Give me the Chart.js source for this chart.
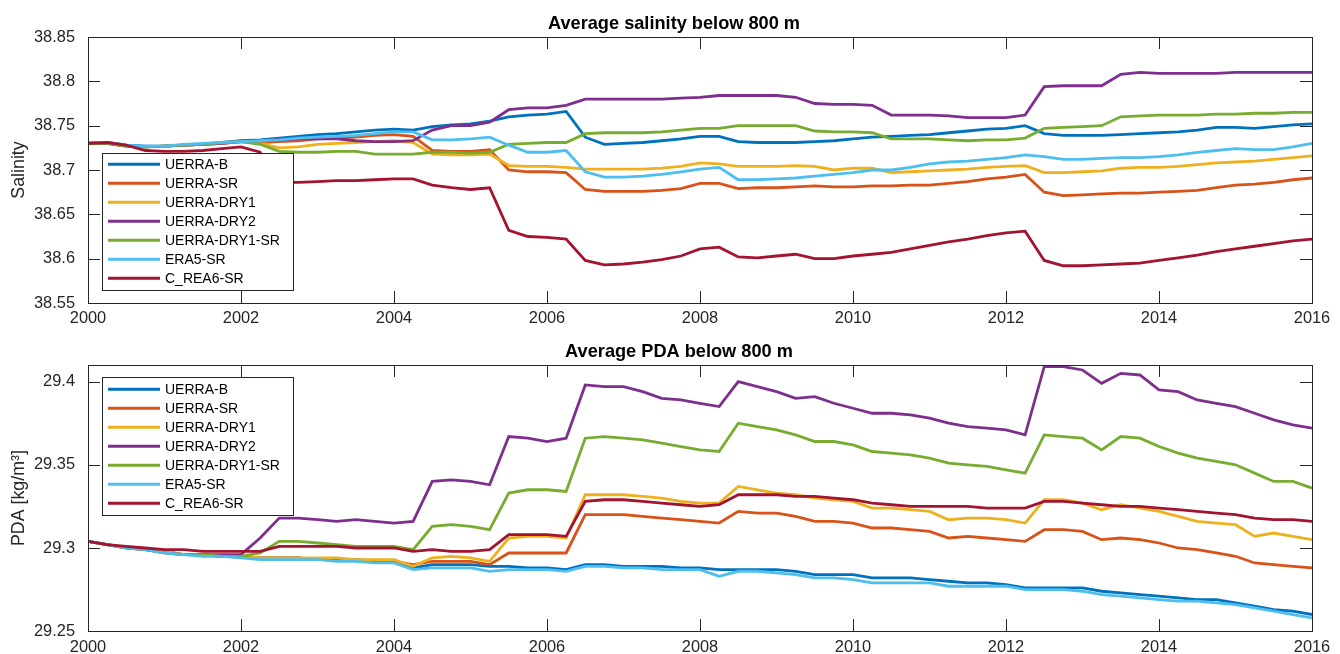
<!DOCTYPE html>
<html>
<head>
<meta charset="utf-8">
<script src="https://cdn.jsdelivr.net/npm/chart.js@4.4.1/dist/chart.umd.min.js"></script>
<style>
  html, body { margin: 0; padding: 0; background: #fff; }
  #wrap { position: relative; width: 1340px; height: 654px; }
  canvas { position: absolute; left: 0; display: block; }
</style>
</head>
<body>
<div id="wrap">
  <canvas id="c1" width="1340" height="327" style="top:0"></canvas>
  <canvas id="c2" width="1340" height="327" style="top:327px"></canvas>
</div>
<script>
// ---------------- DATA ----------------
const seriesNames = ['UERRA-B', 'UERRA-SR', 'UERRA-DRY1', 'UERRA-DRY2', 'UERRA-DRY1-SR', 'ERA5-SR', 'C_REA6-SR'];

const years = [
  2000, 2000.25, 2000.5, 2000.75, 2001, 2001.25, 2001.5, 2001.75,
  2002, 2002.25, 2002.5, 2002.75, 2003, 2003.25, 2003.5, 2003.75,
  2004, 2004.25, 2004.5, 2004.75, 2005, 2005.25, 2005.5, 2005.75,
  2006, 2006.25, 2006.5, 2006.75, 2007, 2007.25, 2007.5, 2007.75,
  2008, 2008.25, 2008.5, 2008.75, 2009, 2009.25, 2009.5, 2009.75,
  2010, 2010.25, 2010.5, 2010.75, 2011, 2011.25, 2011.5, 2011.75,
  2012, 2012.25, 2012.5, 2012.75, 2013, 2013.25, 2013.5, 2013.75,
  2014, 2014.25, 2014.5, 2014.75, 2015, 2015.25, 2015.5, 2015.75,
  2016
];

const yearTicks = [2000, 2002, 2004, 2006, 2008, 2010, 2012, 2014, 2016];
const salinityTicks = [38.55, 38.6, 38.65, 38.7, 38.75, 38.8, 38.85];
const pdaTicks = [29.25, 29.3, 29.35, 29.4];

// Average salinity below 800 m
const salUerraB = [
  38.730, 38.731, 38.728, 38.727, 38.727, 38.728, 38.729, 38.731,
  38.733, 38.734, 38.736, 38.738, 38.740, 38.741, 38.743, 38.745,
  38.746, 38.745, 38.749, 38.751, 38.752, 38.755, 38.760, 38.762,
  38.763, 38.766, 38.737, 38.729, 38.730, 38.731, 38.733, 38.735,
  38.738, 38.738, 38.732, 38.731, 38.731, 38.731, 38.732, 38.733,
  38.735, 38.737, 38.738, 38.739, 38.740, 38.742, 38.744, 38.746,
  38.747, 38.750, 38.741, 38.739, 38.739, 38.739, 38.740, 38.741,
  38.742, 38.743, 38.745, 38.748, 38.748, 38.747, 38.749, 38.751,
  38.752
];
const salUerraSR = [
  38.730, 38.730, 38.727, 38.726, 38.727, 38.728, 38.729, 38.730,
  38.732, 38.731, 38.732, 38.733, 38.735, 38.736, 38.737, 38.739,
  38.740, 38.738, 38.722, 38.721, 38.721, 38.723, 38.700, 38.698,
  38.698, 38.697, 38.678, 38.676, 38.676, 38.676, 38.677, 38.679,
  38.685, 38.685, 38.679, 38.680, 38.680, 38.681, 38.682, 38.681,
  38.681, 38.682, 38.682, 38.683, 38.683, 38.685, 38.687, 38.690,
  38.692, 38.695, 38.675, 38.671, 38.672, 38.673, 38.674, 38.674,
  38.675, 38.676, 38.677, 38.680, 38.683, 38.684, 38.686, 38.689,
  38.691
];
const salUerraDry1 = [
  38.730, 38.730, 38.727, 38.726, 38.727, 38.728, 38.729, 38.730,
  38.732, 38.730, 38.725, 38.726, 38.729, 38.730, 38.731, 38.732,
  38.733, 38.731, 38.718, 38.717, 38.717, 38.718, 38.705, 38.704,
  38.704, 38.703, 38.701, 38.701, 38.701, 38.701, 38.702, 38.704,
  38.708, 38.707, 38.704, 38.704, 38.704, 38.705, 38.704, 38.700,
  38.702, 38.702, 38.697, 38.698, 38.699, 38.700, 38.701, 38.703,
  38.704, 38.705, 38.697, 38.697, 38.698, 38.699, 38.702, 38.703,
  38.703, 38.704, 38.706, 38.708, 38.709, 38.710, 38.712, 38.714,
  38.716
];
const salUerraDry2 = [
  38.730, 38.730, 38.727, 38.726, 38.727, 38.728, 38.729, 38.730,
  38.732, 38.733, 38.734, 38.735, 38.735, 38.735, 38.733, 38.732,
  38.732, 38.733, 38.745, 38.750, 38.750, 38.754, 38.768, 38.770,
  38.770, 38.773, 38.780, 38.780, 38.780, 38.780, 38.780, 38.781,
  38.782, 38.784, 38.784, 38.784, 38.784, 38.782, 38.775, 38.774,
  38.774, 38.773, 38.762, 38.762, 38.762, 38.761, 38.759, 38.759,
  38.759, 38.762, 38.794, 38.795, 38.795, 38.795, 38.808, 38.810,
  38.809, 38.809, 38.809, 38.809, 38.810, 38.810, 38.810, 38.810,
  38.810
];
const salUerraDry1SR = [
  38.730, 38.730, 38.727, 38.726, 38.727, 38.728, 38.729, 38.731,
  38.732, 38.729, 38.721, 38.720, 38.720, 38.721, 38.721, 38.718,
  38.718, 38.718, 38.720, 38.720, 38.719, 38.720, 38.729, 38.730,
  38.731, 38.731, 38.741, 38.742, 38.742, 38.742, 38.743, 38.745,
  38.747, 38.747, 38.750, 38.750, 38.750, 38.750, 38.744, 38.743,
  38.743, 38.742, 38.735, 38.735, 38.735, 38.734, 38.733, 38.734,
  38.734, 38.736, 38.747, 38.748, 38.749, 38.750, 38.760, 38.761,
  38.762, 38.762, 38.762, 38.763, 38.763, 38.764, 38.764, 38.765,
  38.765
];
const salEra5SR = [
  38.731, 38.731, 38.728, 38.727, 38.727, 38.729, 38.730, 38.731,
  38.732, 38.733, 38.734, 38.736, 38.737, 38.738, 38.739, 38.741,
  38.743, 38.743, 38.734, 38.734, 38.735, 38.737, 38.728, 38.720,
  38.720, 38.722, 38.698, 38.692, 38.692, 38.693, 38.695, 38.698,
  38.701, 38.703, 38.689, 38.689, 38.690, 38.691, 38.693, 38.695,
  38.697, 38.700, 38.700, 38.703, 38.707, 38.709, 38.710, 38.712,
  38.714, 38.717, 38.715, 38.712, 38.712, 38.713, 38.714, 38.714,
  38.715, 38.717, 38.720, 38.722, 38.724, 38.723, 38.723, 38.726,
  38.730
];
const salCRea6SR = [
  38.730, 38.731, 38.728, 38.722, 38.721, 38.721, 38.722, 38.724,
  38.726, 38.720, 38.686, 38.686, 38.687, 38.688, 38.688, 38.689,
  38.690, 38.690, 38.683, 38.680, 38.678, 38.680, 38.632, 38.625,
  38.624, 38.622, 38.598, 38.593, 38.594, 38.596, 38.599, 38.603,
  38.611, 38.613, 38.602, 38.601, 38.603, 38.605, 38.600, 38.600,
  38.603, 38.605, 38.607, 38.611, 38.615, 38.619, 38.622, 38.626,
  38.629, 38.631, 38.598, 38.592, 38.592, 38.593, 38.594, 38.595,
  38.598, 38.601, 38.604, 38.608, 38.611, 38.614, 38.617, 38.620,
  38.622
];

// Average PDA below 800 m
const pdaUerraB = [
  29.304, 29.302, 29.300, 29.299, 29.298, 29.296, 29.296, 29.295,
  29.295, 29.294, 29.294, 29.294, 29.293, 29.293, 29.293, 29.292,
  29.292, 29.288, 29.290, 29.290, 29.290, 29.289, 29.289, 29.288,
  29.288, 29.287, 29.290, 29.290, 29.289, 29.289, 29.289, 29.288,
  29.288, 29.287, 29.287, 29.287, 29.287, 29.286, 29.284, 29.284,
  29.284, 29.282, 29.282, 29.282, 29.281, 29.280, 29.279, 29.279,
  29.278, 29.276, 29.276, 29.276, 29.276, 29.274, 29.273, 29.272,
  29.271, 29.270, 29.269, 29.269, 29.267, 29.265, 29.263, 29.262,
  29.260
];
const pdaUerraSR = [
  29.304, 29.302, 29.300, 29.299, 29.298, 29.296, 29.296, 29.295,
  29.295, 29.294, 29.294, 29.294, 29.293, 29.293, 29.293, 29.292,
  29.292, 29.290, 29.292, 29.292, 29.292, 29.290, 29.297, 29.297,
  29.297, 29.297, 29.320, 29.320, 29.320, 29.319, 29.318, 29.317,
  29.316, 29.315, 29.322, 29.321, 29.321, 29.319, 29.316, 29.316,
  29.315, 29.312, 29.312, 29.311, 29.310, 29.306, 29.307, 29.306,
  29.305, 29.304, 29.311, 29.311, 29.310, 29.305, 29.306, 29.305,
  29.303, 29.300, 29.299, 29.297, 29.295, 29.291, 29.290, 29.289,
  29.288
];
const pdaUerraDry1 = [
  29.304, 29.302, 29.300, 29.299, 29.298, 29.296, 29.296, 29.295,
  29.295, 29.294, 29.294, 29.294, 29.294, 29.294, 29.293, 29.293,
  29.293, 29.289, 29.294, 29.295, 29.294, 29.292, 29.306, 29.307,
  29.307, 29.306, 29.332, 29.332, 29.332, 29.331, 29.330, 29.328,
  29.327, 29.327, 29.337, 29.335, 29.333, 29.332, 29.330, 29.329,
  29.328, 29.324, 29.324, 29.323, 29.322, 29.317, 29.318, 29.318,
  29.317, 29.315, 29.329, 29.329, 29.327, 29.323, 29.326, 29.324,
  29.322, 29.319, 29.316, 29.315, 29.314, 29.307, 29.309, 29.307,
  29.305
];
const pdaUerraDry2 = [
  29.304, 29.302, 29.300, 29.299, 29.297, 29.296, 29.296, 29.296,
  29.296, 29.306, 29.318, 29.318, 29.317, 29.316, 29.317, 29.316,
  29.315, 29.316, 29.340, 29.341, 29.340, 29.338, 29.367, 29.366,
  29.364, 29.366, 29.398, 29.397, 29.397, 29.394, 29.390, 29.389,
  29.387, 29.385, 29.400, 29.397, 29.394, 29.390, 29.391, 29.387,
  29.384, 29.381, 29.381, 29.380, 29.378, 29.375, 29.373, 29.372,
  29.371, 29.368, 29.409, 29.409, 29.407, 29.399, 29.405, 29.404,
  29.395, 29.394, 29.389, 29.387, 29.385, 29.381, 29.377, 29.374,
  29.372
];
const pdaUerraDry1SR = [
  29.304, 29.302, 29.300, 29.299, 29.297, 29.296, 29.296, 29.295,
  29.295, 29.297, 29.304, 29.304, 29.303, 29.302, 29.301, 29.301,
  29.301, 29.299, 29.313, 29.314, 29.313, 29.311, 29.333, 29.335,
  29.335, 29.334, 29.366, 29.367, 29.366, 29.365, 29.363, 29.361,
  29.359, 29.358, 29.375, 29.373, 29.371, 29.368, 29.364, 29.364,
  29.362, 29.358, 29.357, 29.356, 29.354, 29.351, 29.350, 29.349,
  29.347, 29.345, 29.368, 29.367, 29.366, 29.359, 29.367, 29.366,
  29.361, 29.357, 29.354, 29.352, 29.350, 29.345, 29.340, 29.340,
  29.336
];
const pdaEra5SR = [
  29.304, 29.302, 29.300, 29.299, 29.297, 29.296, 29.295, 29.295,
  29.294, 29.293, 29.293, 29.293, 29.293, 29.292, 29.292, 29.291,
  29.291, 29.287, 29.288, 29.288, 29.288, 29.286, 29.287, 29.287,
  29.287, 29.286, 29.289, 29.289, 29.288, 29.288, 29.287, 29.287,
  29.287, 29.283, 29.286, 29.286, 29.285, 29.284, 29.282, 29.282,
  29.281, 29.279, 29.279, 29.279, 29.279, 29.277, 29.277, 29.277,
  29.277, 29.275, 29.275, 29.275, 29.274, 29.272, 29.271, 29.270,
  29.269, 29.268, 29.268, 29.267, 29.266, 29.264, 29.262, 29.260,
  29.258
];
const pdaCRea6SR = [
  29.304, 29.302, 29.301, 29.300, 29.299, 29.299, 29.298, 29.298,
  29.298, 29.298, 29.301, 29.301, 29.301, 29.301, 29.300, 29.300,
  29.300, 29.298, 29.299, 29.298, 29.298, 29.299, 29.308, 29.308,
  29.308, 29.307, 29.328, 29.329, 29.329, 29.328, 29.327, 29.326,
  29.325, 29.326, 29.332, 29.332, 29.332, 29.331, 29.331, 29.330,
  29.329, 29.327, 29.326, 29.325, 29.325, 29.325, 29.325, 29.324,
  29.324, 29.324, 29.328, 29.328, 29.327, 29.326, 29.325, 29.325,
  29.324, 29.323, 29.322, 29.321, 29.320, 29.318, 29.317, 29.317,
  29.316
];

const seriesColors = ['#0072BD', '#D95319', '#EDB120', '#7E2F8E', '#77AC30', '#4DBEEE', '#A2142F'];

// ---------------- CHART ----------------
const FONT = '"Liberation Sans", Arial, Helvetica, sans-serif';
const AX = '#262626';

function fmtTick(v) { return String(parseFloat(Number(v).toFixed(3))); }

const matlabAxes = {
  id: 'matlabAxes',
  afterDraw(chart, args, opts) {
    const { ctx, chartArea: a, scales: { x, y } } = chart;
    ctx.save();
    ctx.strokeStyle = AX;
    ctx.lineWidth = 1;
    const L = 12;
    ctx.beginPath();
    opts.xTicks.forEach(v => {
      const px = Math.round(x.getPixelForValue(v)) + 0.5;
      ctx.moveTo(px, a.bottom); ctx.lineTo(px, a.bottom - L);
      ctx.moveTo(px, a.top); ctx.lineTo(px, a.top + L);
    });
    opts.yTicks.forEach(v => {
      const py = Math.round(y.getPixelForValue(v)) + 0.5;
      ctx.moveTo(a.left, py); ctx.lineTo(a.left + L, py);
      ctx.moveTo(a.right, py); ctx.lineTo(a.right - L, py);
    });
    ctx.stroke();
    ctx.strokeRect(Math.round(a.left) + 0.5, Math.round(a.top) + 0.5,
                   Math.round(a.right - a.left), Math.round(a.bottom - a.top));
    // title
    ctx.fillStyle = '#000';
    ctx.font = 'bold 18.2px ' + FONT;
    ctx.textAlign = 'center';
    ctx.textBaseline = 'middle';
    ctx.fillText(opts.title, opts.titleX, opts.titleY);
    // legend
    const lg = opts.legend;
    ctx.fillStyle = '#fff';
    ctx.fillRect(lg.x, lg.y, lg.w, lg.h);
    ctx.strokeStyle = AX;
    ctx.lineWidth = 1;
    ctx.strokeRect(lg.x + 0.5, lg.y + 0.5, lg.w, lg.h);
    ctx.font = '14px ' + FONT;
    ctx.textAlign = 'left';
    ctx.textBaseline = 'middle';
    chart.data.datasets.forEach((ds, i) => {
      const yy = lg.firstY + i * lg.step;
      ctx.strokeStyle = ds.borderColor;
      ctx.lineWidth = 3;
      ctx.beginPath();
      ctx.moveTo(lg.sx0, yy); ctx.lineTo(lg.sx1, yy);
      ctx.stroke();
      ctx.fillStyle = '#000';
      ctx.fillText(ds.label, lg.tx, yy + 0.5);
    });
    ctx.restore();
  }
};

function makeChart(canvasId, seriesList, yMin, yMax, yTicks, yTitle, title, titleX, titleY, topPad, xAxisH, legend) {
  const datasets = seriesList.map((vals, i) => ({
    label: seriesNames[i],
    data: vals.map((v, k) => ({ x: years[k], y: v })),
    borderColor: seriesColors[i],
    backgroundColor: seriesColors[i],
    borderWidth: 2.8,
    pointRadius: 0,
    tension: 0,
    fill: false,
    order: seriesList.length - i
  }));
  return new Chart(document.getElementById(canvasId), {
    type: 'line',
    data: { datasets },
    plugins: [matlabAxes],
    options: {
      responsive: false,
      animation: false,
      devicePixelRatio: 1,
      layout: { padding: { top: topPad, right: 28, left: 0, bottom: 0 } },
      plugins: {
        legend: { display: false },
        tooltip: { enabled: false },
        matlabAxes: { xTicks: yearTicks, yTicks: yTicks, title, titleX, titleY, legend }
      },
      scales: {
        x: {
          type: 'linear',
          min: 2000, max: 2016,
          grid: { display: false, drawTicks: false },
          border: { display: false },
          afterBuildTicks: s => { s.ticks = yearTicks.map(v => ({ value: v })); },
          afterFit: s => { s.height = xAxisH; },
          ticks: {
            color: AX, padding: 6, maxRotation: 0, autoSkip: false,
            font: { family: FONT, size: 16.4 },
            callback: v => String(v)
          }
        },
        y: {
          type: 'linear',
          min: yMin, max: yMax,
          grid: { display: false, drawTicks: false },
          border: { display: false },
          afterBuildTicks: s => { s.ticks = yTicks.map(v => ({ value: v })); },
          afterFit: s => { s.width = 88; },
          title: {
            display: true, text: yTitle, color: AX,
            font: { family: FONT, size: 17.8 },
            padding: { top: 8, bottom: 0 }
          },
          ticks: {
            color: AX, padding: 13, autoSkip: false,
            font: { family: FONT, size: 16.4 },
            callback: v => fmtTick(v)
          }
        }
      }
    }
  });
}

makeChart('c1',
  [salUerraB, salUerraSR, salUerraDry1, salUerraDry2, salUerraDry1SR, salEra5SR, salCRea6SR],
  38.55, 38.85, salinityTicks, 'Salinity',
  'Average salinity below 800 m', 674, 23.5, 37, 24,
  { x: 102, y: 153, w: 191, h: 137, firstY: 164.3, step: 19, sx0: 108, sx1: 160, tx: 165 });

makeChart('c2',
  [pdaUerraB, pdaUerraSR, pdaUerraDry1, pdaUerraDry2, pdaUerraDry1SR, pdaEra5SR, pdaCRea6SR],
  29.25, 29.41, pdaTicks, 'PDA [kg/m³]',
  'Average PDA below 800 m', 679, 24.5, 38, 22,
  { x: 102, y: 50, w: 191, h: 138, firstY: 62.3, step: 19, sx0: 108, sx1: 160, tx: 165 });
</script>
</body>
</html>
